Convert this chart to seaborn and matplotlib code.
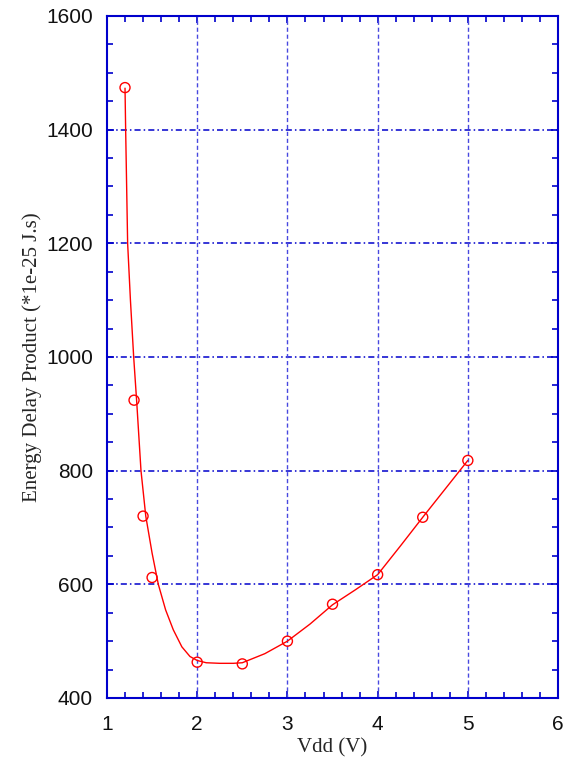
import matplotlib
matplotlib.use("Agg")
import matplotlib.pyplot as plt
from matplotlib.ticker import MultipleLocator
import seaborn as sns
import pandas as pd

# measured points
vdd = [1.2, 1.3, 1.4, 1.5, 2.0, 2.5, 3.0, 3.5, 4.0, 4.5, 5.0]
edp = [1474, 924, 720, 612, 463, 460, 500, 565, 617, 718, 818]

# fitted curve
curve_vdd = [1.2, 1.207, 1.229, 1.26, 1.296, 1.33, 1.377, 1.43, 1.50, 1.569, 1.65,
             1.735, 1.83, 1.92, 2.0, 2.1, 2.25, 2.4, 2.5, 2.75, 3.0, 3.25, 3.5,
             3.75, 4.0, 4.25, 4.5, 4.75, 5.0]
curve_edp = [1473, 1400, 1200, 1100, 1000, 920, 800, 720, 655, 600, 555,
             520, 490, 473, 466, 462, 461, 461, 462, 478, 500, 530, 564,
             590, 617, 667, 718, 768, 818]

x_ticks = [1, 2, 3, 4, 5, 6]
y_ticks = [400, 600, 800, 1000, 1200, 1400, 1600]

pts = pd.DataFrame({"Vdd": vdd, "EDP": edp})
crv = pd.DataFrame({"Vdd": curve_vdd, "EDP": curve_edp})

sns.set_theme(style="white")
plt.rcParams["font.family"] = ["Liberation Sans", "DejaVu Sans"]

fig = plt.figure(figsize=(5.66, 7.65), dpi=100)
ax = fig.add_axes([0.189, 0.0876, 0.797, 0.8915])

blue = "#0000CC"
gblue = "#4848E0"

sns.lineplot(data=crv, x="Vdd", y="EDP", ax=ax, color="red", lw=1.0, sort=False, zorder=3)
sns.scatterplot(data=pts, x="Vdd", y="EDP", ax=ax, marker="o", s=52,
                facecolor="none", edgecolor="red", linewidth=1.0, zorder=4)

ax.set_xlim(1, 6)
ax.set_ylim(400, 1600)
ax.set_xticks(x_ticks)
ax.set_yticks(y_ticks)
ax.xaxis.set_minor_locator(MultipleLocator(0.2))
ax.yaxis.set_minor_locator(MultipleLocator(50))

for yv in y_ticks[1:-1]:
    ax.axhline(yv, color=blue, lw=1.1, ls=(0, (4, 2, 1, 2)), zorder=1)
for xv in x_ticks[1:-1]:
    ax.axvline(xv, color=gblue, lw=1.0, ls=(0, (3, 2)), zorder=1)

for s in ax.spines.values():
    s.set_color(blue)
    s.set_linewidth(1.5)
    s.set_visible(True)

ax.tick_params(which="both", direction="in", top=True, right=True, bottom=True, left=True,
               color=blue, width=1.2)
ax.tick_params(axis="x", which="major", length=5, labelsize=15, pad=12, labelcolor="#111111")
ax.tick_params(axis="y", which="major", length=5, labelsize=15, pad=10, labelcolor="#111111")
ax.tick_params(which="minor", length=4)

ax.set_xlabel("Vdd (V)", family=["Liberation Serif", "DejaVu Serif"], fontsize=15, labelpad=3)
ax.set_ylabel("Energy Delay Product (*1e-25 J.s)", family=["Liberation Serif", "DejaVu Serif"],
              fontsize=15, labelpad=3)
ax.grid(False)

fig.savefig("out.png", dpi=100)
